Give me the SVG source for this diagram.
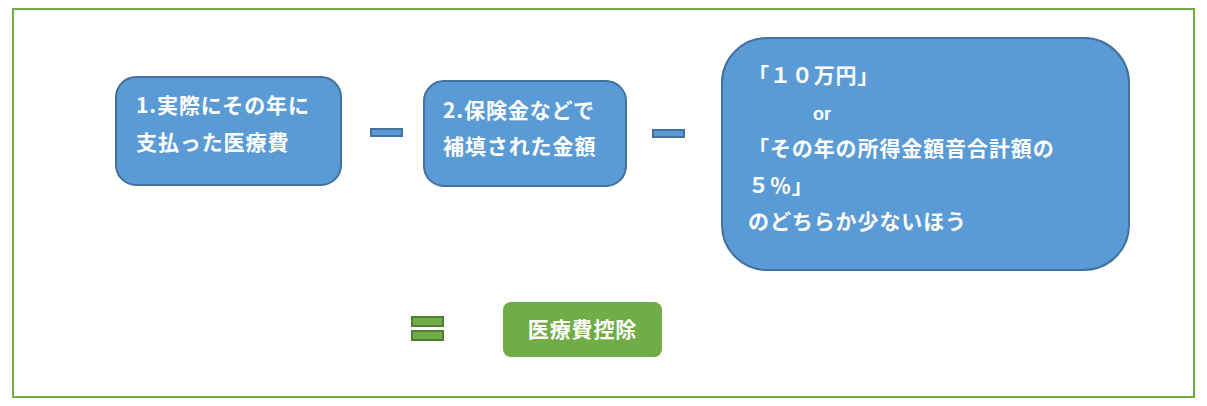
<svg xmlns="http://www.w3.org/2000/svg" width="1207" height="406" viewBox="0 0 1207 406">
<style>
.blue{fill:#5b9bd5;stroke:#41719c;stroke-width:2}
.green{fill:#70ad47;stroke:#507e32;stroke-width:2}
.t{font-family:"Noto Sans CJK JP","Noto Sans",sans-serif;font-size:21px;font-weight:bold;fill:#ffffff;letter-spacing:0.9px}
.l{font-family:"Liberation Sans",Arial,sans-serif;font-size:18px;font-weight:bold;fill:#ffffff}
</style>
<rect x="0" y="0" width="1207" height="406" fill="#ffffff"/>
<rect x="13" y="9" width="1181" height="388" fill="#ffffff" stroke="#70ad47" stroke-width="2"/>
<g id="box1">
<rect class="blue" x="116" y="77" width="225" height="108" rx="20"/>
<text class="t" x="136" y="113">1.実際にその年に</text>
<text class="t" x="136" y="150">支払った医療費</text>
</g>
<g id="box2">
<rect class="blue" x="424" y="81" width="202" height="105" rx="20"/>
<text class="t" x="443" y="118">2.保険金などで</text>
<text class="t" x="443" y="154">補填された金額</text>
</g>
<g id="box3">
<rect class="blue" x="722" y="38" width="407" height="232" rx="45"/>
<text class="t" x="748" y="83">「１０万円」</text>
<text class="l" x="813" y="120">or</text>
<text class="t" x="748" y="156">「その年の所得金額音合計額の</text>
<text class="t" x="748" y="193">５％」</text>
<text class="t" x="748" y="229">のどちらか少ないほう</text>
</g>
<g id="result">
<rect x="503" y="302" width="159" height="55" rx="8" fill="#70ad47"/>
<text class="t" x="582.5" y="337" text-anchor="middle">医療費控除</text>
</g>
<g id="connectors">
<rect class="blue" x="371" y="129" width="31" height="7"/>
<rect class="blue" x="653" y="130" width="31" height="7"/>
<rect class="green" x="412" y="317" width="31" height="9"/>
<rect class="green" x="412" y="331" width="31" height="9"/>
</g>
</svg>
